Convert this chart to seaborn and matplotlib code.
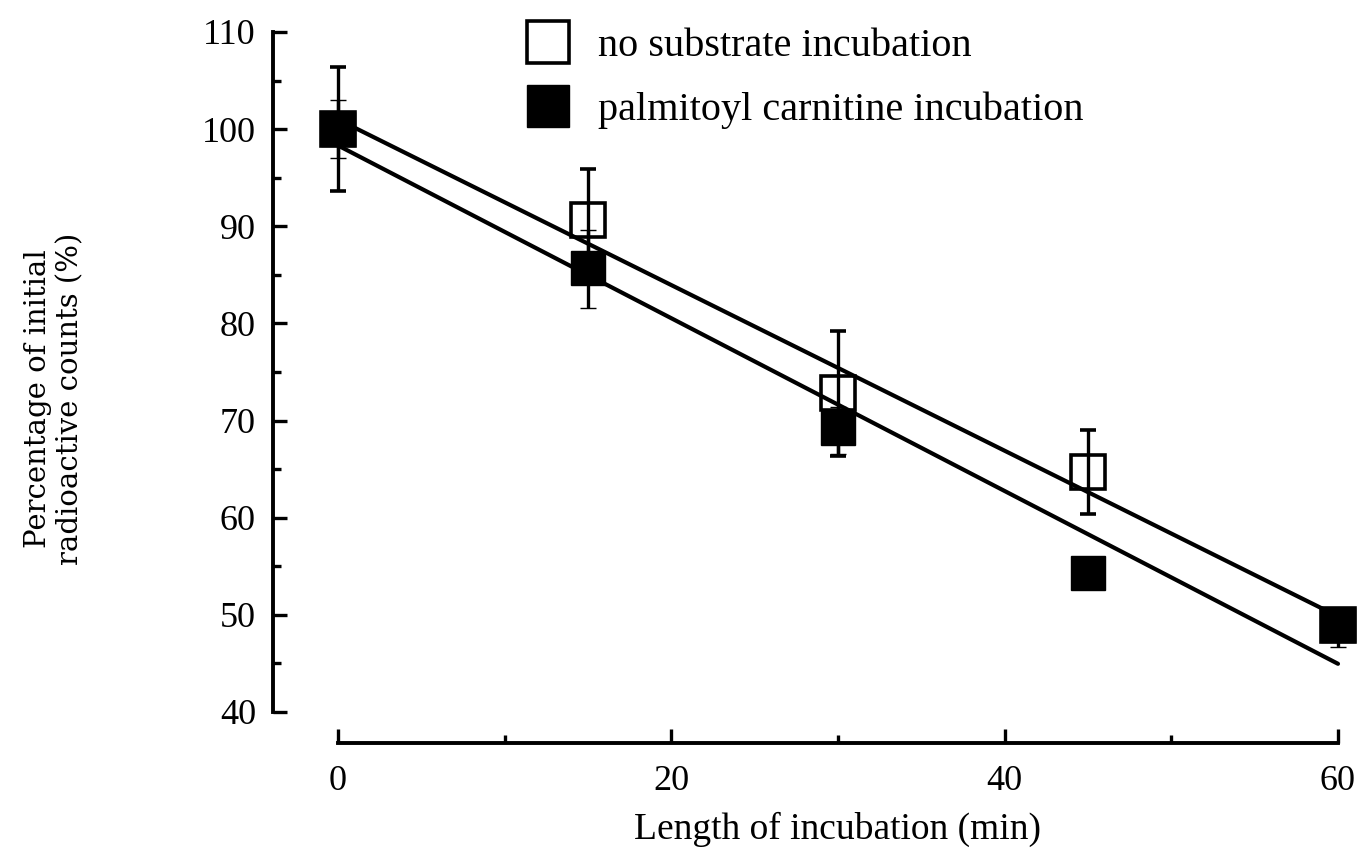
import numpy as np
import pandas as pd
import seaborn as sns
import matplotlib.pyplot as plt
from matplotlib.ticker import MultipleLocator
from matplotlib.lines import Line2D

sns.set_style("ticks")
plt.rcParams['font.family'] = ['Liberation Serif', 'DejaVu Serif']
plt.rcParams.update({"text.color": "black", "axes.labelcolor": "black",
                     "xtick.color": "black", "ytick.color": "black",
                     "axes.edgecolor": "black"})

# data
minutes = [0, 15, 30, 45, 60]
no_substrate = [100.0, 90.6, 72.8, 64.7, 49.0]
no_substrate_err = [6.4, 5.3, 6.4, 4.3, 1.0]
palmitoyl = [100.0, 85.7, 69.2, 54.3, 49.0]
palmitoyl_err_low = [3.0, 4.1, 2.6, 1.0, 2.3]
palmitoyl_err_high = [3.0, 3.9, 2.2, 1.0, 1.0]

df = pd.DataFrame({"minutes": minutes, "open": no_substrate, "filled": palmitoyl})

fig = plt.figure(figsize=(13.61, 8.48), dpi=100)
ax = fig.add_axes([0.2483, 0.1604, 0.7348, 0.8019])

# regression lines
line_kws = dict(color="black", lw=3.0, zorder=2)
sns.regplot(data=df, x="minutes", y="open", scatter=False, ci=None, ax=ax, line_kws=line_kws)
sns.regplot(data=df, x="minutes", y="filled", scatter=False, ci=None, ax=ax, line_kws=line_kws)

# points with error bars
ax.errorbar(minutes, no_substrate, yerr=no_substrate_err, fmt="s", ms=24, mfc="none",
            mec="black", mew=2.6, ecolor="black", elinewidth=2.4, capsize=6, capthick=2.6,
            zorder=3, clip_on=False)
ax.errorbar(minutes, palmitoyl, yerr=[palmitoyl_err_low, palmitoyl_err_high], fmt="s",
            ms=24, mfc="black", mec="black", mew=1, ecolor="black", elinewidth=2.4,
            capsize=6, capthick=2.6, zorder=4, clip_on=False)
for ln in ax.lines:
    ln.set_clip_on(False)

ax.set_xlim(0, 60)
ax.set_ylim(40, 110)
ax.xaxis.set_major_locator(MultipleLocator(20))
ax.xaxis.set_minor_locator(MultipleLocator(10))
ax.yaxis.set_major_locator(MultipleLocator(10))
ax.yaxis.set_minor_locator(MultipleLocator(5))
ax.tick_params(which="both", direction="in", width=2.4, labelsize=26)
ax.tick_params(which="major", length=10)
ax.tick_params(which="minor", length=5.5)
ax.tick_params(axis="x", pad=16)
ax.tick_params(axis="y", pad=12)

sns.despine(ax=ax, offset={"left": 47, "bottom": 22})
for s in ("left", "bottom"):
    ax.spines[s].set_linewidth(2.8)

ax.set_xlabel("Length of incubation (min)", fontsize=27, labelpad=10)
ax.set_ylabel("")
fig.text(0.04, 0.53, "Percentage of initial\nradioactive counts (%)", rotation=90,
         ha="center", va="center", multialignment="center", fontsize=21,
         family="DejaVu Serif")

handles = [
    Line2D([], [], ls="none", marker="s", ms=30, mfc="white", mec="black", mew=2.6),
    Line2D([], [], ls="none", marker="s", ms=30, mfc="black", mec="black"),
]
ax.legend(handles, ["no substrate incubation", "palmitoyl carnitine incubation"],
          loc="upper left", bbox_to_anchor=(0.3733, 0.986), bbox_transform=fig.transFigure,
          frameon=False, fontsize=29, handlelength=1.2, handletextpad=0.63,
          labelspacing=0.65, borderaxespad=0)

fig.savefig("out.png", dpi=100)
